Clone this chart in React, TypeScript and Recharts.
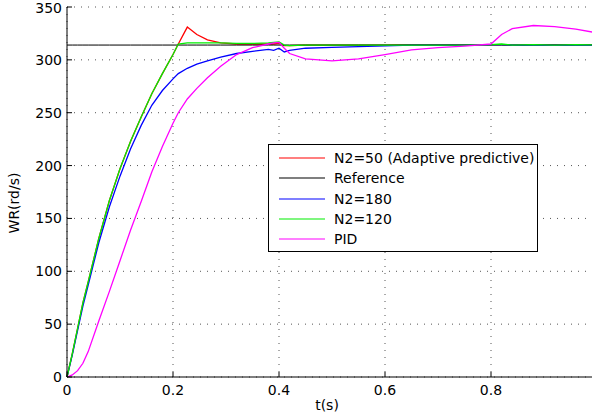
import { LineChart, Line, XAxis, YAxis, CartesianGrid, Label } from 'recharts';

// time samples (s)
const tValues = [
  0, 0.01, 0.02, 0.03, 0.04, 0.06, 0.08, 0.1, 0.12, 0.14, 0.16, 0.18, 0.2, 0.21, 0.227, 0.245, 0.265,
  0.29, 0.32, 0.35, 0.38, 0.39, 0.4, 0.41, 0.42, 0.45, 0.5, 0.55, 0.6, 0.65, 0.7, 0.75, 0.8, 0.82, 0.84,
  0.88, 0.92, 0.96, 1.0,
];

// speed responses WR (rd/s)
const adaptiveN50 = [
  0, 22, 46, 70, 90, 131, 167, 197, 223, 246, 268, 287, 305, 315, 331, 324, 319,
  316, 315, 315, 315, 315, 315.5, 313.5, 313.5, 314, 314, 314, 314, 314.5, 314.5, 314.5, 314.5, 314.5, 314,
  314.5, 314.5, 314.5, 314.5,
];
const referenceSpeed = [
  314, 314, 314, 314, 314, 314, 314, 314, 314, 314, 314, 314, 314, 314, 314, 314, 314,
  314, 314, 314, 314, 314, 314, 314, 314, 314, 314, 314, 314, 314, 314, 314, 314, 314, 314,
  314, 314, 314, 314,
];
const n2_180 = [
  0, 21, 44, 67, 87, 127, 161, 190, 216, 238, 257, 271, 282, 287, 292, 296, 299,
  302.5, 306, 308, 310, 309, 311, 307.5, 309, 311, 311.8, 312.5, 313.3, 314, 314, 314, 314.5, 314.5, 314,
  314, 314, 314, 314,
];
const n2_120 = [
  0, 22, 46, 70, 90, 131, 167, 197, 223, 246, 268, 287, 305, 315, 316, 316, 316,
  316, 315.5, 315.5, 316, 316.5, 317, 314, 313.5, 314, 314, 314, 314, 314, 314, 314, 314.5, 315, 314,
  314.5, 314, 314.5, 314,
];
const pid = [
  0, 2, 6, 13, 24, 53, 81, 110, 139, 166, 194, 218, 240, 250, 263, 273, 283,
  294, 305, 311.5, 315, 316, 316.5, 311, 306, 301, 299, 301, 305, 309.5, 311.5, 313, 315, 324, 329.5,
  332.5, 331.5, 329, 325.5,
];

const xTicks = [0, 0.2, 0.4, 0.6, 0.8];
const yTicks = [0, 50, 100, 150, 200, 250, 300, 350];

const series = [
  { key: 'n50', name: 'N2=50 (Adaptive predictive)', color: '#ff0000' },
  { key: 'ref', name: 'Reference', color: '#000000' },
  { key: 'n180', name: 'N2=180', color: '#0000ff' },
  { key: 'n120', name: 'N2=120', color: '#00ee00' },
  { key: 'pid', name: 'PID', color: '#ff00ff' },
];

const data = tValues.map((t, i) => ({
  t,
  n50: adaptiveN50[i],
  ref: referenceSpeed[i],
  n180: n2_180[i],
  n120: n2_120[i],
  pid: pid[i],
}));

const font = '"DejaVu Sans", Verdana, sans-serif';
const fontSize = 14;

// legend box laid over the plot area
function LegendBox() {
  return (
    <div
      style={{
        position: 'absolute',
        left: 268,
        top: 144,
        width: 270,
        boxSizing: 'border-box',
        border: '1px solid #000',
        background: '#fff',
        padding: '3px 0 2px 0',
        fontFamily: font,
        fontSize,
        color: '#000',
      }}
    >
      {series.map((s) => (
        <div key={s.key} style={{ display: 'flex', alignItems: 'center', height: 20.3 }}>
          <svg width={46} height={4} style={{ marginLeft: 10, marginRight: 9, flex: 'none' }}>
            <line x1={0} y1={2} x2={46} y2={2} stroke={s.color} strokeWidth={1.2} />
          </svg>
          <span style={{ whiteSpace: 'nowrap' }}>{s.name}</span>
        </div>
      ))}
    </div>
  );
}

export default function App() {
  return (
    <div style={{ position: 'absolute', left: 0, top: 0, width: 592, height: 419, overflow: 'hidden', background: '#fff' }}>
      <LineChart width={600} height={419} data={data} margin={{ top: 7, right: 3, bottom: 0, left: 0 }}>
        <CartesianGrid stroke="#555" strokeDasharray="1 6" />
        <XAxis
          dataKey="t"
          type="number"
          domain={[0, 1]}
          ticks={xTicks}
          height={42}
          stroke="#000"
          tickSize={-5}
          tickMargin={13}
          tick={{ fill: '#000', fontSize, fontFamily: font }}
        >
          <Label
            content={() => (
              <text x={327} y={405} textAnchor="middle" dominantBaseline="central" fontFamily={font} fontSize={fontSize} fill="#000">
                t(s)
              </text>
            )}
          />
        </XAxis>
        <YAxis
          type="number"
          domain={[0, 350]}
          ticks={yTicks}
          width={67}
          stroke="#000"
          tickSize={-5}
          tickMargin={10}
          tick={{ fill: '#000', fontSize, fontFamily: font }}
        >
          <Label
            content={() => (
              <text
                x={14}
                y={203}
                transform="rotate(-90 14 203)"
                textAnchor="middle"
                dominantBaseline="central"
                fontFamily={font}
                fontSize={fontSize}
                fill="#000"
              >
                WR(rd/s)
              </text>
            )}
          />
        </YAxis>
        {series.map((s) => (
          <Line
            key={s.key}
            dataKey={s.key}
            name={s.name}
            stroke={s.color}
            strokeWidth={s.key === 'ref' ? 1 : 1.3}
            dot={false}
            type="linear"
            isAnimationActive={false}
          />
        ))}
      </LineChart>
      <LegendBox />
    </div>
  );
}
